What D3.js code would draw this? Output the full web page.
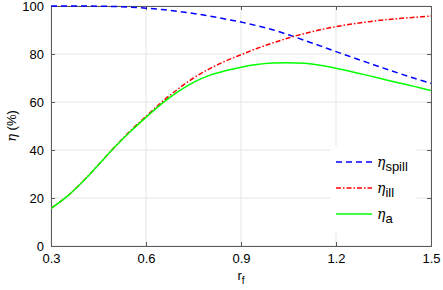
<!DOCTYPE html>
<html>
<head>
<meta charset="utf-8">
<script src="https://cdn.jsdelivr.net/npm/d3@7"></script>
<style>
  body { margin: 0; background: #fff; }
  text { font-family: "Liberation Sans", Arial, sans-serif; }
</style>
</head>
<body>
<svg id="chart" width="443" height="290"></svg>
<script>
// values
var rf = [0.30, 0.35, 0.40, 0.45, 0.50, 0.55, 0.60, 0.65, 0.70, 0.75, 0.80, 0.85, 0.90,
          0.95, 1.00, 1.05, 1.10, 1.15, 1.20, 1.25, 1.30, 1.35, 1.40, 1.45, 1.50];
var etaSpill = [100, 100, 100, 99.9, 99.8, 99.5, 99.1, 98.5, 97.8, 96.9, 95.8, 94.6, 93.3,
                91.8, 90.1, 88.0, 85.7, 83.4, 81.0, 78.7, 76.4, 74.1, 71.9, 69.8, 67.8];
var etaIll = [15.7, 20.6, 26.8, 33.9, 41.1, 47.9, 54.0, 60.0, 65.3, 70.0, 73.8, 77.0, 79.7,
              82.3, 84.6, 86.7, 88.5, 90.1, 91.4, 92.5, 93.4, 94.2, 94.8, 95.3, 95.8];
var etaA = [15.7, 20.6, 26.8, 33.9, 41.0, 47.6, 53.6, 59.3, 64.2, 68.2, 71.1, 73.0, 74.5,
            75.6, 76.2, 76.4, 76.1, 75.3, 74.1, 72.6, 71.1, 69.5, 67.9, 66.4, 64.8];
var xTicks = [0.3, 0.6, 0.9, 1.2, 1.5];
var yTicks = [0, 20, 40, 60, 80, 100];

var series = [
  {name: "spill", vals: etaSpill, color: "#0000ff", dash: "6,4"},
  {name: "ill", vals: etaIll, color: "#ff0000", dash: "5,2,1.5,2"},
  {name: "a", vals: etaA, color: "#00ff00", dash: null}
];

var svg = d3.select("#chart");
var padLeft = 51, padTop = 6, w = 380, h = 240;
var axisColor = "#5a5a5a";

var x = d3.scaleLinear().domain([0.3, 1.5]).range([padLeft, padLeft + w]);
var y = d3.scaleLinear().domain([0, 100]).range([padTop + h, padTop]);

// grid
var grid = svg.append("g");
grid.selectAll("line.gx").data(xTicks).enter().append("line")
    .attr("x1", d => x(d)).attr("x2", d => x(d))
    .attr("y1", padTop).attr("y2", padTop + h)
    .attr("stroke", "#e5e5e5").attr("stroke-width", 1);
grid.selectAll("line.gy").data(yTicks).enter().append("line")
    .attr("x1", padLeft).attr("x2", padLeft + w)
    .attr("y1", d => y(d)).attr("y2", d => y(d))
    .attr("stroke", "#e5e5e5").attr("stroke-width", 1);

// axes (ticks inside)
function styleAxis(g) {
    g.select(".domain").attr("stroke", axisColor);
    g.selectAll(".tick line").attr("stroke", axisColor);
    g.selectAll("text").attr("fill", "#000").style("font-size", "13px")
        .style("font-family", "'Liberation Sans', Arial, sans-serif");
}
svg.append("g").attr("transform", "translate(0," + (padTop + h) + ")")
    .call(d3.axisBottom(x).tickValues(xTicks).tickSize(-4).tickPadding(8).tickFormat(d3.format(".1f")))
    .call(styleAxis);
svg.append("g").attr("transform", "translate(" + padLeft + ",0)")
    .call(d3.axisLeft(y).tickValues(yTicks).tickSize(-4).tickPadding(7))
    .call(styleAxis);
svg.append("g").attr("transform", "translate(0," + padTop + ")")
    .call(d3.axisTop(x).tickValues(xTicks).tickSize(-4).tickFormat(""))
    .call(styleAxis);
svg.append("g").attr("transform", "translate(" + (padLeft + w) + ",0)")
    .call(d3.axisRight(y).tickValues(yTicks).tickSize(-4).tickFormat(""))
    .call(styleAxis);

// curves
var line = d3.line().curve(d3.curveCatmullRom.alpha(0.5));
svg.append("clipPath").attr("id", "plotclip").append("rect")
    .attr("x", padLeft).attr("y", padTop - 2).attr("width", w).attr("height", h + 2);
svg.append("g").attr("clip-path", "url(#plotclip)")
    .selectAll("path").data(series).enter().append("path")
    .attr("d", s => line(rf.map((r, i) => [x(r), y(s.vals[i])])))
    .attr("fill", "none")
    .attr("stroke", s => s.color)
    .attr("stroke-width", 1.5)
    .attr("stroke-dasharray", s => s.dash);

// legend
var legend = svg.append("g");
legend.append("rect").attr("x", 330).attr("y", 146).attr("width", 86).attr("height", 86).attr("fill", "#fff");
var items = legend.selectAll("g.item").data(series).enter().append("g")
    .attr("transform", (d, i) => "translate(0," + [162, 188, 214][i] + ")");
items.append("line").attr("x1", 336).attr("x2", 372).attr("y1", 0).attr("y2", 0)
    .attr("stroke", d => d.color).attr("stroke-width", 1.5)
    .attr("stroke-dasharray", d => d.dash);
var lt = items.append("text").attr("x", 377).attr("y", 5).style("font-size", "14px");
lt.append("tspan").style("font-style", "italic").style("font-family", "'DejaVu Serif', serif").text("η");
lt.append("tspan").attr("dy", 4).style("font-size", "13px").text(d => d.name);

// axis labels
var xl = svg.append("text").attr("x", x(0.9)).attr("y", 280).attr("text-anchor", "middle").style("font-size", "13px");
xl.append("tspan").text("r");
xl.append("tspan").attr("dy", 4).style("font-size", "10px").text("f");

var yl = svg.append("text").attr("transform", "translate(16," + (padTop + h / 2) + ") rotate(-90)")
    .attr("text-anchor", "middle").style("font-size", "13px");
yl.append("tspan").style("font-style", "italic").style("font-family", "'DejaVu Serif', serif").text("η");
yl.append("tspan").text(" (%)");
</script>
</body>
</html>
